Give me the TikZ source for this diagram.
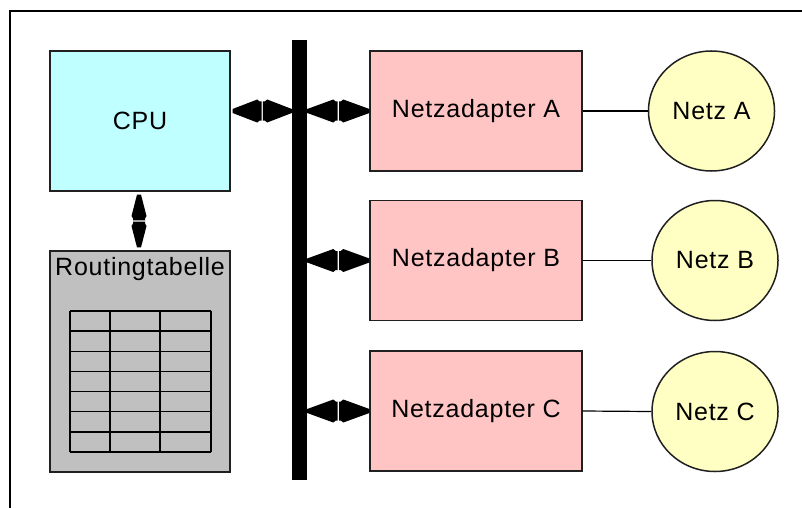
\documentclass[tikz,border=0pt]{standalone}
\usepackage{fontspec}
\setmainfont{Liberation Sans}[LetterSpace=3]
\usetikzlibrary{calc,shapes.geometric}

\definecolor{cpufill}{HTML}{C0FFFF}
\definecolor{nicfill}{HTML}{FFC4C4}
\definecolor{tabfill}{HTML}{C0C0C0}
\definecolor{netfill}{HTML}{FFFFC4}
\definecolor{outline}{HTML}{202020}

\tikzset{
  box/.style={draw=outline, line width=1.2pt, rectangle, inner sep=0pt,
    font=\fontsize{25}{30}\selectfont},
  cpubox/.style={box, fill=cpufill, minimum width=180pt, minimum height=140pt},
  nicbox/.style={box, fill=nicfill, minimum width=212pt, minimum height=120pt},
  tabbox/.style={box, fill=tabfill, minimum width=180pt, minimum height=221pt},
  netcircle/.style={ellipse, draw=outline, line width=1.5pt, fill=netfill,
    minimum width=126pt, minimum height=120pt, inner sep=0pt,
    font=\fontsize{25}{30}\selectfont},
  busbar/.style={rectangle, fill=black, draw=none, minimum width=15pt,
    minimum height=440pt, inner sep=0pt},
  headfill/.style={fill=black},
  wire/.style={line width=1.2pt, draw=black},
  grid line/.style={line width=1.5pt, draw=black}
}

% one arrow head: #1 middle of the connector, #2 tip,
% #3 widest half width, #4 half width at the notch
\newcommand\kitehead[4]{%
  \coordinate (kA) at ($(#1)!0.7pt!(#2)$);
  \coordinate (kS) at ($(#1)!2.5pt!(#2)$);
  \coordinate (kW) at ($(#1)!5pt!(#2)$);
  \fill[headfill]
    ($(kA)!#4!90:(#2)$) -- ($(kS)!#4!90:(#2)$) -- ($(kW)!#3!90:(#2)$)
    -- ($(#2)!2pt!-90:(#1)$) -- ($(#2)!2pt!90:(#1)$)
    -- ($(kW)!#3!-90:(#2)$) -- ($(kS)!#4!-90:(#2)$) -- ($(kA)!#4!-90:(#2)$)
    -- cycle;
}
% double-headed connector from #1 to #2
\newcommand\kite[4]{%
  \coordinate (kM) at ($(#1)!0.5!(#2)$);
  \kitehead{kM}{#1}{#3}{#4}
  \kitehead{kM}{#2}{#3}{#4}
}

\begin{document}
\begin{tikzpicture}[x=1pt,y=-1pt]
  \useasboundingbox (0,0) rectangle (802,508);

  % frame (top and left edges)
  \draw[line width=1.2pt] (10,508) -- (10,11) -- (802,11);

  % units
  \node[cpubox] (cpu) at (140,121) {CPU};
  \node[tabbox] (tab) at (140,361.5) {};
  \node[font=\fontsize{25}{30}\selectfont] (tabtitle) at (140,269) {Routingtabelle};
  \node[busbar] (bus) at (299.5,260) {};

  \node[nicbox] (adA) at (476,111) {Netzadapter A};
  \node[nicbox] (adB) at (476,260.5) {Netzadapter B};
  \node[nicbox] (adC) at (476,411) {Netzadapter C};

  \node[netcircle] (netA) at (711.5,111) {Netz A};
  \node[netcircle] (netB) at (715,260.5) {Netz B};
  \node[netcircle] (netC) at (715,411.5) {Netz C};

  % routing table grid
  \foreach \r in {0,...,7} {
    \draw[grid line] (70,{311+\r*20.14}) -- (211,{311+\r*20.14});
  }
  \foreach \c in {70,110,160,211} {
    \draw[grid line] (\c,311) -- (\c,452);
  }

  % bus connections
  \coordinate (cpuOut) at ($(cpu.east |- adA.west)+(2,0)$);
  \coordinate (busA)   at (bus.west |- adA.west);
  \coordinate (busAr)  at (bus.east |- adA.west);
  \coordinate (busBr)  at (bus.east |- adB.west);
  \coordinate (busCr)  at (bus.east |- adC.west);
  \kite{cpuOut}{busA}{11.5pt}{9.5pt}
  \kite{busAr}{adA.west}{11.5pt}{9.5pt}
  \kite{busBr}{adB.west}{11.5pt}{9.5pt}
  \kite{busCr}{adC.west}{11.5pt}{9.5pt}

  % CPU to routing table
  \coordinate (cpuDown) at ($(cpu.south)+(-1,3)$);
  \coordinate (tabUp)   at ($(tab.north)+(-1,-3)$);
  \kite{cpuDown}{tabUp}{7.5pt}{6pt}

  % adapters to networks
  \draw[wire] (adA.east) -- (netA.west);
  \draw[wire] (adB.east) -- (netB.west);
  \draw[wire] (adC.east) -- (netC.west);
\end{tikzpicture}
\end{document}
